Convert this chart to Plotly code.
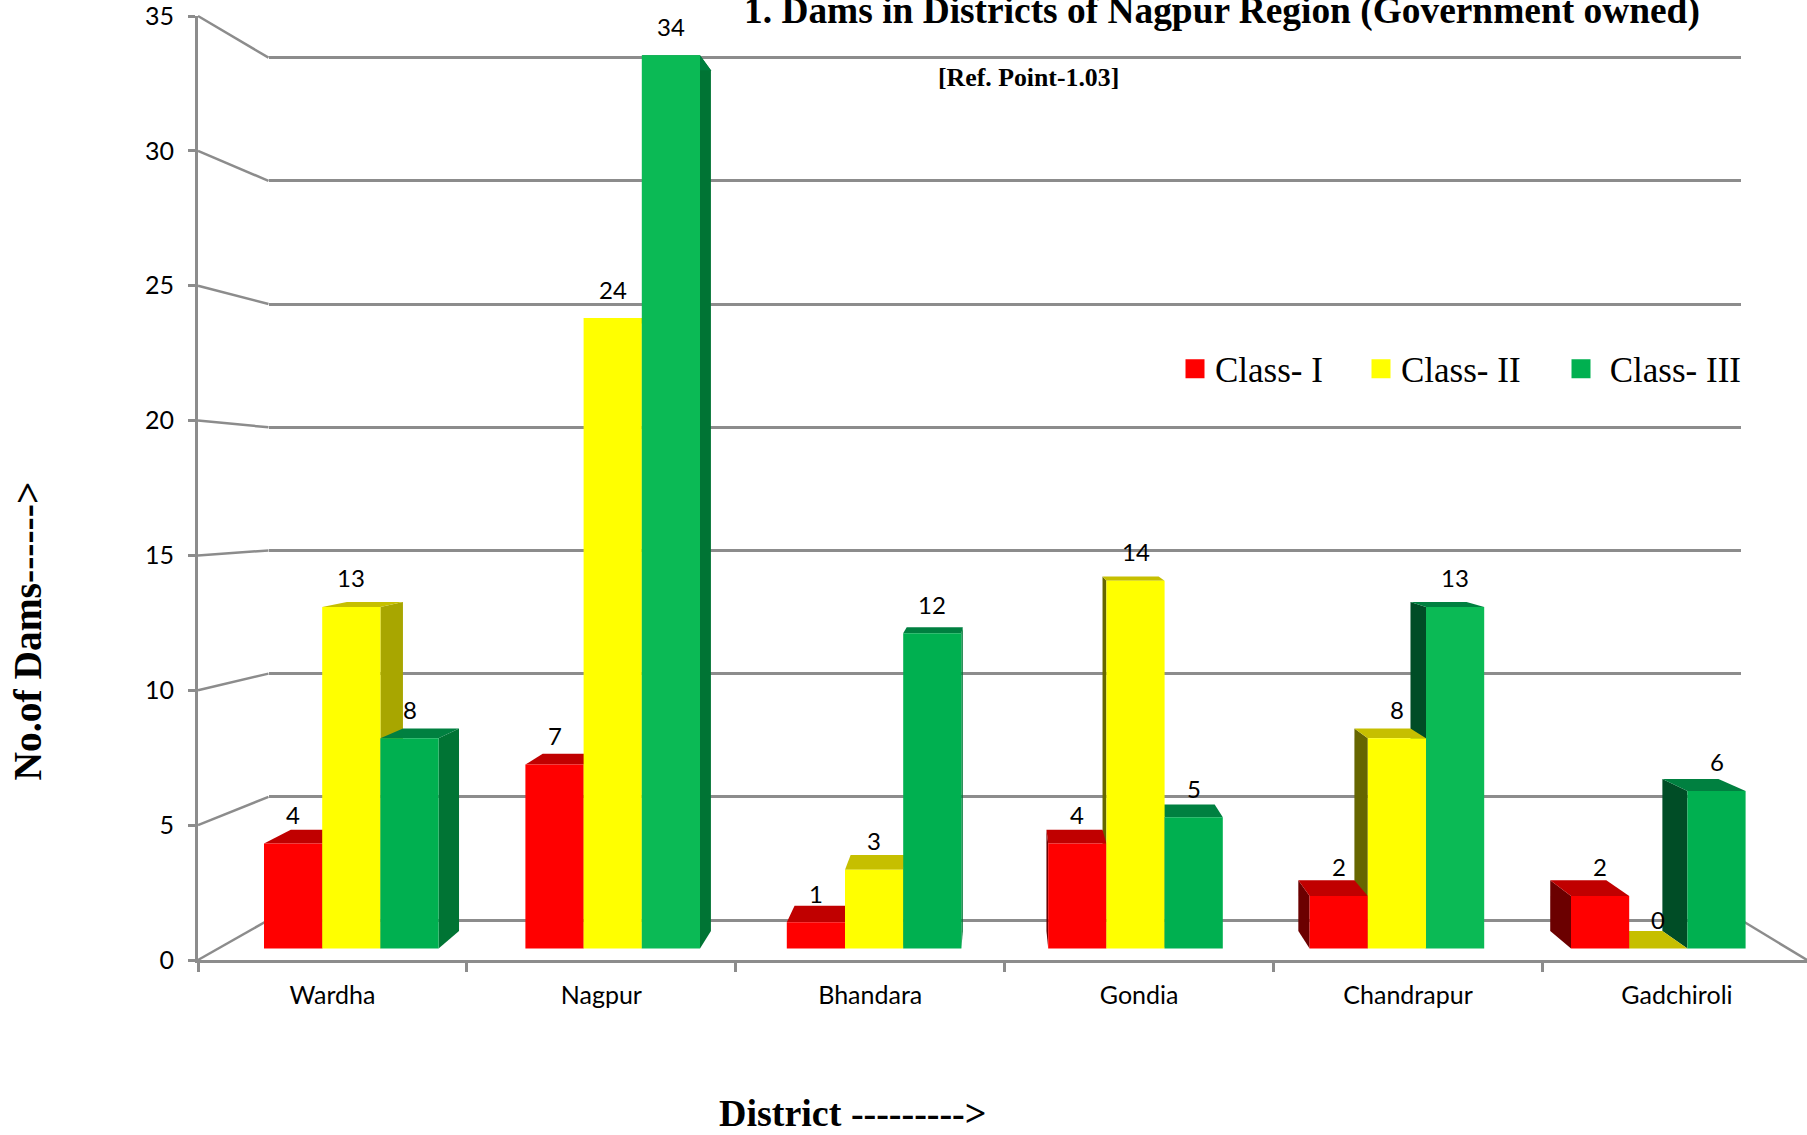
import plotly.graph_objects as go

# Dams per district, by class
districts = ["Wardha", "Nagpur", "Bhandara", "Gondia", "Chandrapur", "Gadchiroli"]
class_i = [4, 7, 1, 4, 2, 2]
class_ii = [13, 24, 3, 14, 8, 0]
class_iii = [8, 34, 12, 5, 13, 6]
series_names = ["Class- I", "Class- II", "\u00a0Class- III"]
y_ticks = [0, 5, 10, 15, 20, 25, 30, 35]

W, H = 1807, 1135

GREY = "#8c8c8c"
LABEL_FONT = "Lato"
SERIF = "Liberation Serif"

# Colours of the three faces of each column
FACES = [
    dict(front="#ff0000", top="#c00000", right="#8a0000", left="#6b0000"),
    dict(front="#ffff00", top="#c6bf00", right="#a8a600", left="#666600"),
    dict(front="#00b050", top="#008040", right="#007434", left="#004d26"),
]

# Page geometry of the perspective box, in pixels
FRONT_LEFT, FRONT_ZERO, FRONT_TOP = 198.0, 960.0, 16.0
WALL_LEFT, WALL_RIGHT, WALL_ZERO, WALL_TOP = 268.5, 1741.0, 920.0, 57.7
GROUP_STEP, FIRST_GROUP, BAR_WIDTH = 261.4, 351.3, 58.2
BAR_ZERO, BAR_UNIT = 948.5, 26.27
CATEGORY_STEP = 268.9

# Column depth is a fraction of the distance to the vanishing point
DEPTH = 0.0364
VANISH_X = (1000.0 - FIRST_GROUP) / GROUP_STEP
VANISH_Y = (BAR_ZERO - 467.0) / BAR_UNIT


def px(x):
    return x / W


def py(y):
    return 1 - y / H


def back(x, y):
    return x + DEPTH * (VANISH_X - x), y + DEPTH * (VANISH_Y - y)


def quad(corners):
    xs = [c[0] for c in corners] + [corners[0][0]]
    ys = [c[1] for c in corners] + [corners[0][1]]
    return xs, ys


def front_colour(series, value):
    # The tall green columns catch a little more light
    if series == 2 and value >= 13:
        return "#0bba55"
    return FACES[series]["front"]


fig = go.Figure()

# Back wall: only its gridlines are drawn
fig.add_trace(go.Scatter(x=[None], y=[None], xaxis="x", yaxis="y",
                         showlegend=False, hoverinfo="skip"))

all_series = [class_i, class_ii, class_iii]
bar_w = BAR_WIDTH / GROUP_STEP


def add_faces(g, s):
    v = all_series[s][g]
    left = g + (s - 1.5) * bar_w
    right = left + bar_w
    use_right = right < VANISH_X
    edge = right if use_right else left
    side = [(edge, 0), (edge, v), back(edge, v), back(edge, 0)]
    top = [(left, v), (right, v), back(right, v), back(left, v)]
    side_colour = FACES[s]["right" if use_right else "left"]
    for corners, colour in ((side, side_colour), (top, FACES[s]["top"])):
        xs, ys = quad(corners)
        fig.add_trace(go.Scatter(x=xs, y=ys, xaxis="x2", yaxis="y2", mode="lines",
                                 fill="toself", fillcolor=colour,
                                 line=dict(width=0, color=colour),
                                 showlegend=False, hoverinfo="skip"))


# Side and top faces, painted from the far side of the vanishing point inwards
for g in range(len(districts)):
    order = range(3) if g + 0.5 * bar_w * 3 < VANISH_X else range(2, -1, -1)
    for s in order:
        add_faces(g, s)

# Front faces sit in the nearest plane, above every other face
for s, values in enumerate(all_series):
    fig.add_trace(go.Bar(x=list(range(len(districts))), y=values,
                         name=series_names[s].strip(), xaxis="x3", yaxis="y3",
                         marker=dict(color=[front_colour(s, v) for v in values],
                                     line=dict(width=0)),
                         showlegend=False,
                         hovertext=districts, hoverinfo="text+y"))

# Key entries, one legend each so they can be spaced independently
legend_ids = ["legend", "legend2", "legend3"]
for s, name in enumerate(series_names):
    fig.add_trace(go.Scatter(x=[None], y=[None], mode="markers", name=name,
                             xaxis="x4", yaxis="y4", legend=legend_ids[s],
                             marker=dict(symbol="square", size=16,
                                         color=FACES[s]["front"],
                                         line=dict(width=3, color=FACES[s]["front"]))))

# Value labels above each column
annotations = []
for s, values in enumerate(all_series):
    for g, v in enumerate(values):
        annotations.append(dict(x=g + (s - 1) * bar_w, y=v, xref="x3", yref="y3",
                                text=str(v), showarrow=False, yshift=29,
                                xanchor="center", yanchor="middle",
                                font=dict(family=LABEL_FONT, size=24, color="#000000")))


def page_text(text, x, y, size, bold=True, angle=0):
    label = f"<b>{text}</b>" if bold else text
    annotations.append(dict(x=px(x), y=py(y), xref="paper", yref="paper", text=label,
                            showarrow=False, textangle=angle,
                            xanchor="center", yanchor="middle",
                            font=dict(family=SERIF, size=size, color="#000000")))


page_text("1. Dams in Districts of Nagpur Region (Government owned)", 1221.5, 11, 37.4)
page_text("[Ref. Point-1.03]", 1028, 77, 25.8)
page_text("District ---------&gt;", 852, 1113, 38)
page_text("No.of Dams------&gt;", 27.5, 631, 39.5, angle=-90)

# Lines joining the front axis to the back wall, plus the two floor edges
front_unit = (FRONT_ZERO - FRONT_TOP) / 35
wall_unit = (WALL_ZERO - WALL_TOP) / 35
shapes = []
for t in y_ticks:
    shapes.append(dict(type="line", xref="paper", yref="paper", layer="below",
                       x0=px(FRONT_LEFT), y0=py(FRONT_ZERO - t * front_unit),
                       x1=px(WALL_LEFT), y1=py(WALL_ZERO - t * wall_unit),
                       line=dict(color=GREY, width=2.5)))
shapes.append(dict(type="line", xref="paper", yref="paper", layer="below",
                   x0=px(WALL_RIGHT), y0=py(WALL_ZERO), x1=px(W), y1=py(FRONT_ZERO),
                   line=dict(color=GREY, width=2.5)))

face_x = dict(visible=False, domain=[0, 1],
              range=[-FIRST_GROUP / GROUP_STEP, (W - FIRST_GROUP) / GROUP_STEP])
face_y = dict(visible=False, domain=[0, 1],
              range=[(BAR_ZERO - H) / BAR_UNIT, BAR_ZERO / BAR_UNIT])

legend_common = dict(bgcolor="rgba(0,0,0,0)", orientation="h", xanchor="left", yanchor="middle",
                     itemclick=False, itemdoubleclick=False,
                     font=dict(family=SERIF, size=35, color="#000000"))

# Wall range runs a little past 0 and 35 so the end gridlines are kept
WALL_PAD = 0.5

fig.update_layout(
    width=W, height=H, autosize=False,
    margin=dict(l=0, r=0, t=0, b=0, autoexpand=False),
    paper_bgcolor="#ffffff", plot_bgcolor="rgba(0,0,0,0)",
    barmode="group", bargap=1 - 3 * bar_w, bargroupgap=0,
    annotations=annotations, shapes=shapes,
    # back wall
    xaxis=dict(domain=[px(WALL_LEFT), px(WALL_RIGHT)], range=[0, 1], showgrid=False,
               zeroline=False, showticklabels=False, ticks="", anchor="y"),
    yaxis=dict(domain=[py(WALL_ZERO + WALL_PAD * wall_unit), py(WALL_TOP - WALL_PAD * wall_unit)],
               range=[-WALL_PAD, 35 + WALL_PAD], tickmode="array", tickvals=y_ticks, showgrid=True,
               gridcolor=GREY, gridwidth=3, zeroline=False, showticklabels=False,
               ticks="", anchor="x"),
    # side and top faces
    xaxis2=dict(anchor="y2", **face_x),
    yaxis2=dict(anchor="x2", **face_y),
    # front faces
    xaxis3=dict(anchor="y3", **face_x),
    yaxis3=dict(anchor="x3", **face_y),
    # front axes carrying the tick labels
    xaxis4=dict(domain=[px(FRONT_LEFT), 1], anchor="y4",
                range=[-0.5, -0.5 + (W - FRONT_LEFT) / CATEGORY_STEP],
                tickmode="array", tickvals=list(range(len(districts))), ticktext=districts,
                ticks="", showgrid=False, zeroline=False, showline=True,
                linecolor=GREY, linewidth=3, ticklabelstandoff=11,
                tickfont=dict(family=LABEL_FONT, size=25, color="#000000"),
                minor=dict(tickmode="array", tickvals=[i - 0.5 for i in range(len(districts))],
                           ticks="outside", ticklen=9, tickcolor=GREY, tickwidth=2.5,
                           showgrid=False)),
    yaxis4=dict(domain=[py(FRONT_ZERO), py(FRONT_TOP)], anchor="x4", range=[0, 35],
                tickmode="array", tickvals=y_ticks, ticks="outside", ticklen=7,
                tickcolor=GREY, tickwidth=2.5, showgrid=False, zeroline=False, showline=True,
                linecolor=GREY, linewidth=3, ticklabelstandoff=9, ticklabeloverflow="allow",
                tickfont=dict(family=LABEL_FONT, size=25, color="#000000")),
    legend=dict(x=px(1175), y=py(369), **legend_common),
    legend2=dict(x=px(1361), y=py(369), **legend_common),
    legend3=dict(x=px(1561), y=py(369), **legend_common),
)

fig.write_html("out.html")
